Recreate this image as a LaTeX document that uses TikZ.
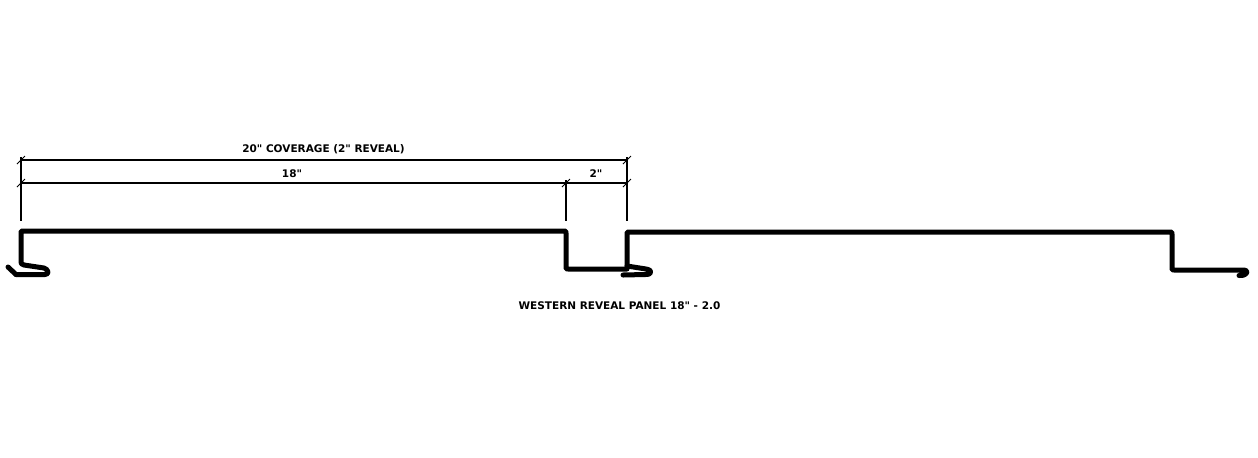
\documentclass[tikz,border=0pt]{standalone}
\usepackage{fontspec}
\setmainfont[Ligatures=TeXOff]{DejaVu Sans}
\usepackage{tikz}
\tikzset{
    panel/.style={black, line width=2.5pt, line join=round, line cap=round},
    dimline/.style={black, line width=0.55pt},
    dimtick/.style={black, line width=0.4pt},
    dimlabel/.style={font=\bfseries\fontsize{5.25}{6.5}\selectfont, inner sep=0pt}
}
\begin{document}
\begin{tikzpicture}[x=0.5pt, y=-0.5pt]
        \useasboundingbox (0,0) rectangle (1258,457);
        % first panel
        \draw[panel] (16,274.5) -- (45,274.5) .. controls (50,274.5) and (48,269) .. (44,268) -- (24,265)
            .. controls (21,264) and (21,264) .. (21,261) -- (21,233)
            .. controls (21,231) and (21,231) .. (23,231) -- (564,231)
            .. controls (566,231) and (566,231) .. (566,233) -- (566,267)
            .. controls (566,269) and (566,269) .. (568,269) -- (627,269);
        \draw[panel] (16,274.5) -- (8,267);
        % second panel
        \draw[panel] (627,267) -- (627,234) .. controls (627,232) and (627,232) .. (629,232) -- (1170,232)
            .. controls (1172,232) and (1172,232) .. (1172,234) -- (1172,268)
            .. controls (1172,270) and (1172,270) .. (1174,270) -- (1244,270)
            .. controls (1249,270) and (1248,276) .. (1239,275.5);
        \draw[panel] (627,266) -- (646,269) .. controls (653,270) and (652,275) .. (645,274.5) -- (623,275);
        % dimensions
        \coordinate (a1) at (21,160);
        \coordinate (a2) at (627,160);
        \coordinate (b1) at (21,183);
        \coordinate (b2) at (566,183);
        \coordinate (b3) at (627,183);
        \draw[dimline] (a1) -- (a2);
        \draw[dimline] (b1) -- (b3);
        \draw[dimline] (21,157) -- (21,221);
        \draw[dimline] (566,180) -- (566,221);
        \draw[dimline] (627,157) -- (627,221);
        \foreach \p in {a1,a2,b1,b2,b3}
            \draw[dimtick] ([xshift=-2pt,yshift=-2pt]\p) -- ([xshift=2pt,yshift=2pt]\p);
        \node[dimlabel] (coverage) at (323.5,149.5) {20" COVERAGE (2" REVEAL)};
        \node[dimlabel] (wide) at (292,173.5) {18"};
        \node[dimlabel] (reveal) at (596,173.5) {2"};
        \node[dimlabel] (title) at (619.5,305.5) {WESTERN REVEAL PANEL 18" - 2.0};
    \end{tikzpicture}
\end{document}
